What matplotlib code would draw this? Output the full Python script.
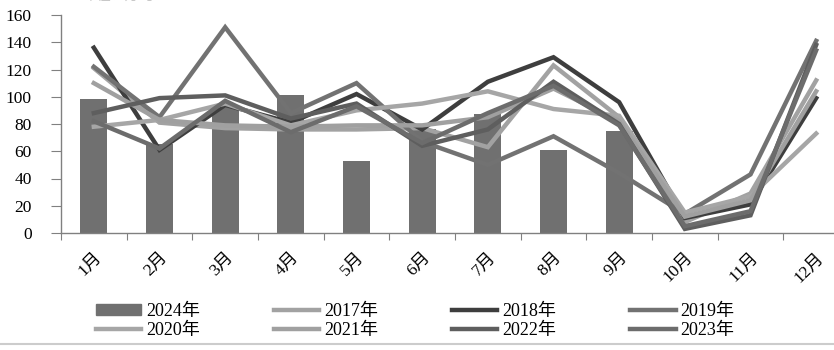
import matplotlib
matplotlib.use("Agg")
import matplotlib.pyplot as plt
from matplotlib.lines import Line2D
import numpy as np

months = ["1月", "2月", "3月", "4月", "5月", "6月", "7月", "8月", "9月", "10月", "11月", "12月"]
yticks = [0, 20, 40, 60, 80, 100, 120, 140, 160]

bar_label = "2024年"
bar_values = [98, 65, 93, 101, 53, 76, 87, 61, 75]

line_labels = ["2017年", "2018年", "2019年", "2020年", "2021年", "2022年", "2023年"]
v2017 = [121, 81, 77, 76, 76, 77, 63, 123, 85, 8, 29, 112]
v2018 = [136, 61, 94, 81, 102, 76, 111, 129, 96, 11, 21, 99]
v2019 = [122, 85, 151, 88, 110, 67, 50, 71, 44, 14, 43, 141]
v2020 = [78, 83, 95, 79, 90, 95, 104, 91, 86, 15, 27, 73]
v2021 = [110, 83, 79, 78, 79, 79, 85, 106, 82, 12, 24, 104]
v2022 = [88, 99, 101, 84, 95, 64, 76, 111, 80, 3, 13, 138]
v2023 = [82, 62, 97, 74, 93, 66, 88, 108, 79, 5, 16, 134]
line_values = [v2017, v2018, v2019, v2020, v2021, v2022, v2023]
line_colors = ["#a2a2a2", "#3e3e3e", "#727272", "#a6a6a6", "#a0a0a0", "#5e5e5e", "#6c6c6c"]
bar_color = "#707070"

FONT = ["Liberation Serif", "Noto Sans CJK SC", "DejaVu Sans"]
plt.rcParams["font.family"] = FONT

fig = plt.figure(figsize=(8.34, 3.5), dpi=100)
ax = fig.add_axes([61 / 834, 117 / 350, 788 / 834, 218 / 350])

x = np.arange(len(months))
ax.bar(x[:len(bar_values)], bar_values, width=0.41, color=bar_color, zorder=1)
for vals, col in zip(line_values, line_colors):
    ax.plot(x, vals, color=col, linewidth=3.2, solid_joinstyle="miter", zorder=2)

ax.set_xlim(-0.5, 11.5)
ax.set_ylim(0, 160)
ax.set_yticks(yticks)
ax.set_yticklabels([str(t) for t in yticks], fontsize=12.5)
ax.set_xticks(np.arange(len(months) + 1) - 0.5, minor=False)
ax.set_xticklabels([])
ax.set_xticks(x, minor=True)
ax.set_xticklabels(months, minor=True, rotation=45, fontsize=12.5,
                   ha="right", va="top", rotation_mode="anchor")
ax.tick_params(axis="x", which="minor", length=0, pad=12)
ax.tick_params(axis="x", which="major", length=5, color="#808080", direction="out")
ax.tick_params(axis="y", length=7, color="#808080", pad=14)
for s in ["top", "right"]:
    ax.spines[s].set_visible(False)
for s in ["left", "bottom"]:
    ax.spines[s].set_color("#808080")
    ax.spines[s].set_linewidth(1.0)

handles = [plt.Rectangle((0, 0), 1, 1, color=bar_color)]
handles += [Line2D([0], [0], color=c, linewidth=3.2) for c in line_colors]
labels = [bar_label] + line_labels
order = [0, 4, 1, 5, 2, 6, 3, 7]
leg = fig.legend([handles[i] for i in order], [labels[i] for i in order],
                 ncol=4, loc="center left", bbox_to_anchor=(96 / 834, 29 / 350),
                 frameon=False, fontsize=13, handlelength=2.5, handletextpad=0.28,
                 columnspacing=4.1, labelspacing=0.1, borderaxespad=0, borderpad=0,
                 handleheight=0.55)

fig.add_artist(Line2D([0, 1], [6 / 350, 6 / 350], color="#cccccc", linewidth=1.5,
                      transform=fig.transFigure))
fig.text(83 / 834, 347 / 350, "单位：万吨", color="#c8c8c8", fontsize=10,
         va="bottom", ha="left")

fig.savefig("out.png", dpi=100)
